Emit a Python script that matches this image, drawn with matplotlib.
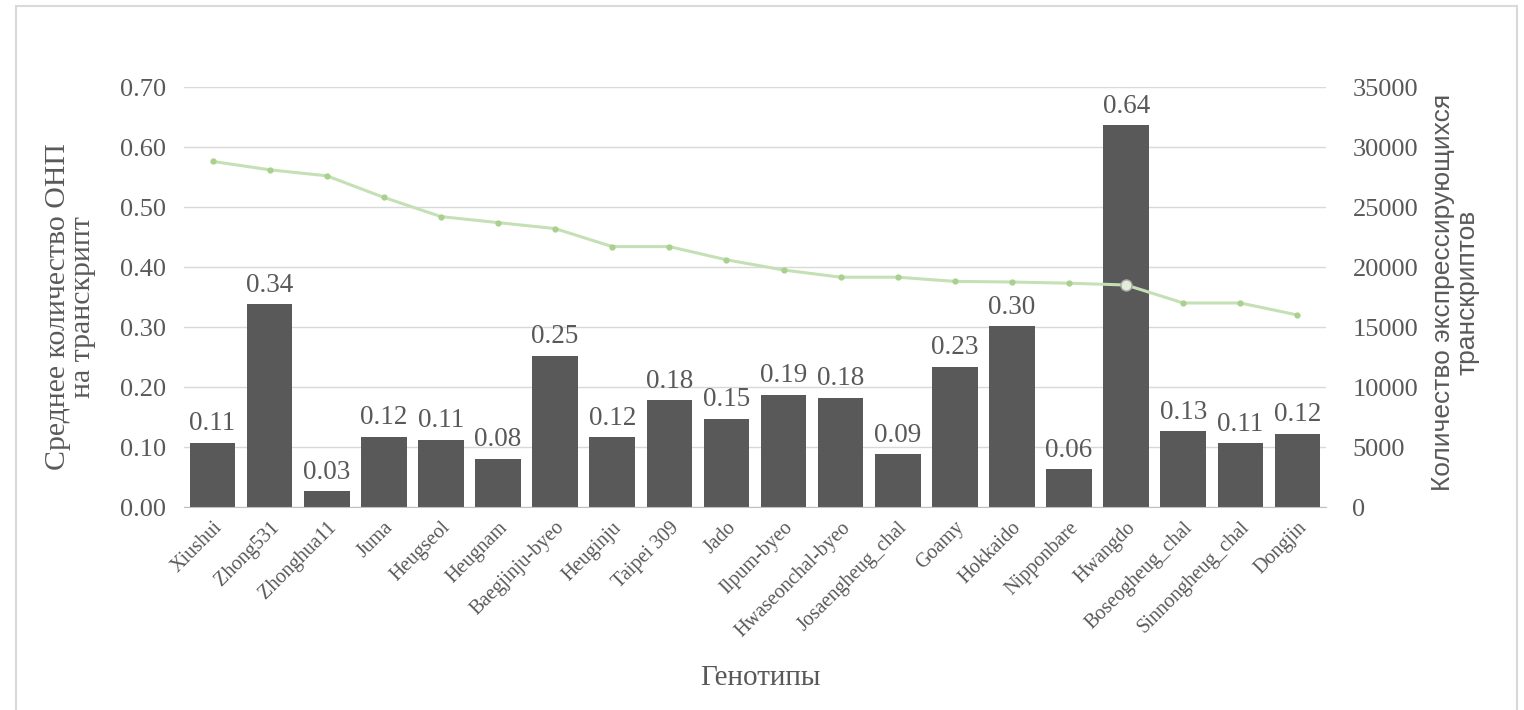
import matplotlib
matplotlib.use("Agg")
import matplotlib.pyplot as plt
from matplotlib.patches import Rectangle

genotypes = ["Xiushui", "Zhong531", "Zhonghua11", "Juma", "Heugseol", "Heugnam",
             "Baegjinju-byeo", "Heuginju", "Taipei 309", "Jado", "Ilpum-byeo",
             "Hwaseonchal-byeo", "Josaengheug_chal", "Goamy", "Hokkaido", "Nipponbare",
             "Hwangdo", "Boseogheug_chal", "Sinnongheug_chal", "Dongjin"]
snp_per_transcript = [0.107, 0.338, 0.026, 0.117, 0.112, 0.080, 0.252, 0.116, 0.178, 0.147,
                      0.187, 0.182, 0.088, 0.234, 0.301, 0.063, 0.636, 0.126, 0.106, 0.122]
snp_labels = ["0.11", "0.34", "0.03", "0.12", "0.11", "0.08", "0.25", "0.12", "0.18", "0.15",
              "0.19", "0.18", "0.09", "0.23", "0.30", "0.06", "0.64", "0.13", "0.11", "0.12"]
expressed_transcripts = [28800, 28100, 27600, 25800, 24200, 23700, 23200, 21700, 21700, 20600,
                         19750, 19150, 19150, 18800, 18750, 18650, 18500, 17000, 17000, 16000]
left_ticks = [0.0, 0.1, 0.2, 0.3, 0.4, 0.5, 0.6, 0.7]
right_ticks = [0, 5000, 10000, 15000, 20000, 25000, 30000, 35000]

TXT = "#595959"
SERIF = ["Liberation Serif", "DejaVu Serif"]
SANS = ["Liberation Sans", "DejaVu Sans"]

W, H = 1524, 710
fig = plt.figure(figsize=(W / 100, H / 100), dpi=100)
fig.patches.append(Rectangle((15.5 / W, -0.02), (1517 - 15.5) / W, 1.02 - 6 / H,
                             transform=fig.transFigure, fill=False,
                             edgecolor="#d9d9d9", linewidth=1.5))
ax = fig.add_axes([184 / W, 1 - 507 / H, (1326 - 184) / W, (507 - 87) / H])
x = list(range(len(genotypes)))

ax.bar(x, snp_per_transcript, width=0.8, color="#595959", zorder=2)
for xi, v, lab in zip(x, snp_per_transcript, snp_labels):
    ax.text(xi, v + 0.011, lab, ha="center", va="bottom", fontsize=19.5,
            family=SERIF, color=TXT, zorder=4)

ax.set_xlim(-0.5, len(genotypes) - 0.5)
ax.set_ylim(0, 0.7)
ax.set_yticks(left_ticks)
ax.set_yticklabels([f"{t:.2f}" for t in left_ticks], family=SERIF, fontsize=19, color=TXT)
ax.grid(axis="y", color="#d9d9d9", linewidth=1.0, zorder=0)
ax.set_axisbelow(True)
for s in ["top", "left", "right"]:
    ax.spines[s].set_visible(False)
ax.spines["bottom"].set_color("#bfbfbf")
ax.tick_params(axis="y", length=0, pad=13)
ax.set_xticks(x)
ax.set_xticklabels(genotypes, rotation=45, ha="right", rotation_mode="anchor",
                   family=SERIF, fontsize=14.5, color=TXT)
ax.tick_params(axis="x", length=0, pad=8)

fig.text(760 / W, 1 - 678 / H, "Генотипы", family=SERIF, fontsize=21, color=TXT,
         ha="center", va="center")
fig.text(71 / W, 1 - 307 / H, "Среднее количество ОНП\nна транскрипт", family=SERIF,
         fontsize=21.5, color=TXT, rotation=90, ha="center", va="center",
         multialignment="center", linespacing=0.95)

ax2 = ax.twinx()
ax2.plot(x, expressed_transcripts, color="#c5e0b4", linewidth=2.2, marker="o",
         markersize=3.5, markerfacecolor="#a9d18e", markeredgecolor="#a9d18e", zorder=3)
hw = genotypes.index("Hwangdo")
ax2.plot([hw], [expressed_transcripts[hw]], marker="o", markersize=8,
         markerfacecolor="#e2ecd9", markeredgecolor="#a6a6a6", linestyle="none", zorder=4)
ax2.set_ylim(0, 35000)
ax2.set_yticks(right_ticks)
ax2.set_yticklabels([str(t) for t in right_ticks], family=SERIF, fontsize=19, color=TXT)
ax2.tick_params(axis="y", length=0, pad=19)
for s in ["top", "left", "right", "bottom"]:
    ax2.spines[s].set_visible(False)
fig.text(1455 / W, 1 - 292 / H, "Количество экспрессирующихся\nтранскриптов", family=SANS,
         fontsize=19, color=TXT, rotation=90, ha="center", va="center",
         multialignment="center", linespacing=1.0)

fig.savefig("out.png", dpi=100)
